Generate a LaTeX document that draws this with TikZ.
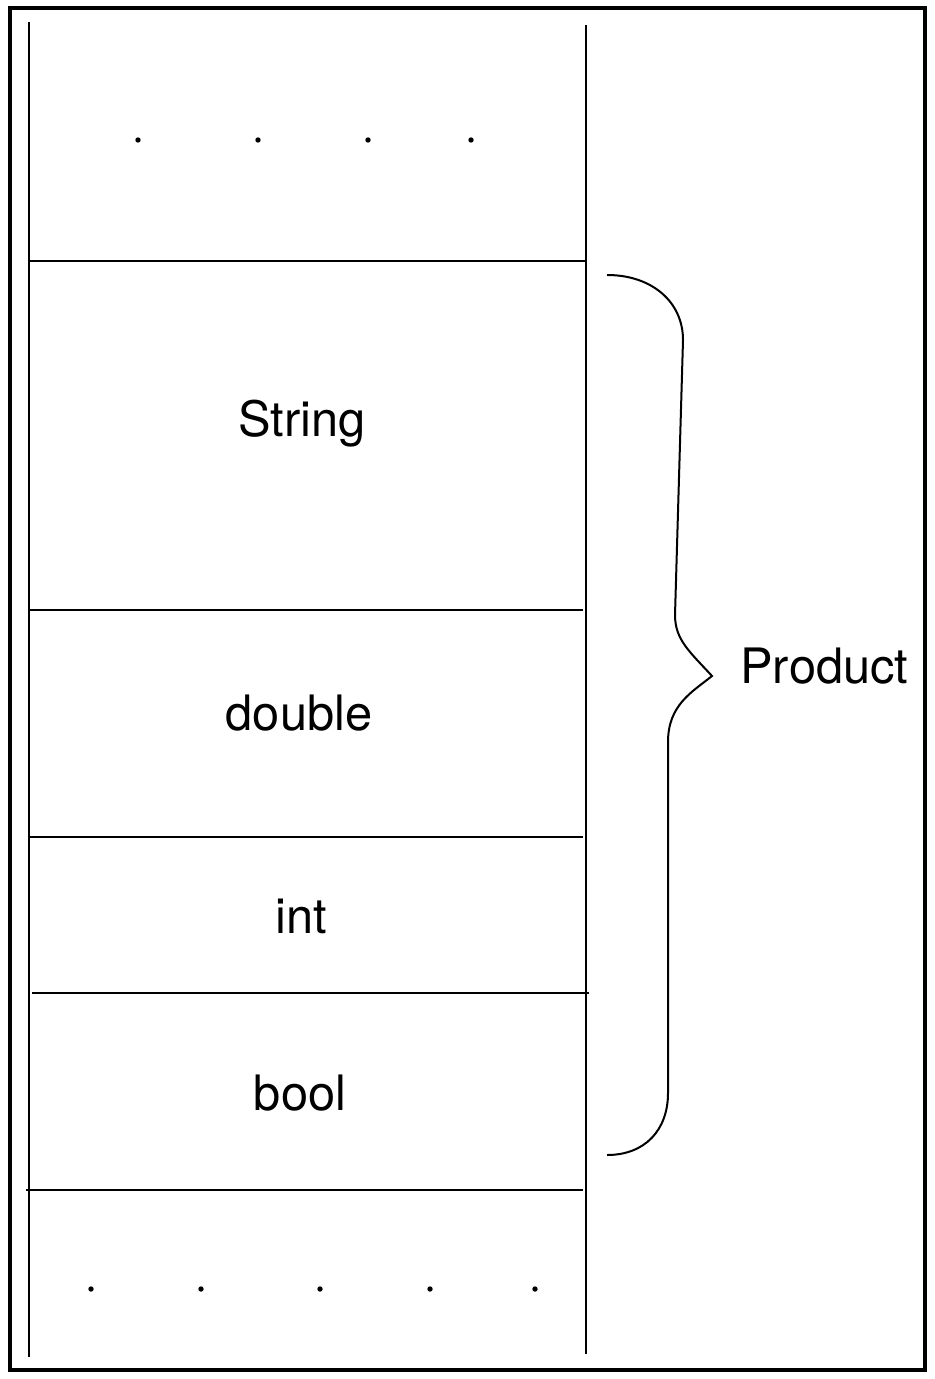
\documentclass[tikz,border=0pt]{standalone}
\usepackage{fontspec}
\setmainfont{TeX Gyre Heros}
\usetikzlibrary{positioning}

\tikzset{
	cell/.style={font=\fontsize{24.4}{29}\selectfont, anchor=base, inner sep=0pt},
	rule/.style={line width=1pt},
	frame/.style={line width=1.8pt},
	brace/.style={line width=1pt, line join=miter}
}

\begin{document}
\begin{tikzpicture}[x=0.5pt, y=-0.5pt]

	\useasboundingbox (0,0) rectangle (935,1379);
	\draw [frame] (10,8) rectangle (925,1370);

	\coordinate (a) at (29,22);
	\coordinate (b) at (29,1357);
	\coordinate (c) at (586,25);
	\coordinate (d) at (586,1354);
	\draw [rule] (a) -- (b);
	\draw [rule] (c) -- (d);

	\draw [rule] (30,261) -- (586,261);
	\draw [rule] (28,610) -- (583,610);
	\draw [rule] (28,837) -- (583,837);
	\draw [rule] (32,993) -- (589,993);
	\draw [rule] (26,1190) -- (583,1190);

	\foreach \x in {138,258,368,471}
		\fill (\x,140) circle (2.7);
	\foreach \x in {91,201,320,430,535}
		\fill (\x,1289) circle (2.7);

	\node [cell] (s) at (302,437) {String};
	\node [cell] (o) at (299,730) {double};
	\node [cell] (i) at (301,933) {int};
	\node [cell] (l) at (300,1110) {bool};

	\coordinate (u) at (607,275);
	\coordinate (t) at (712,676);
	\coordinate (v) at (607,1155);
	\draw [brace] (u) .. controls (652,275) and (683,302) .. (683,340)
		-- (675,615) .. controls (675,640) and (690,652) .. (t)
		.. controls (692,692) and (668,705) .. (668,742)
		-- (668,1093) .. controls (668,1130) and (645,1155) .. (v);

	\node [cell, anchor=base west] (p) at (740,683) {Product};

\end{tikzpicture}
\end{document}
